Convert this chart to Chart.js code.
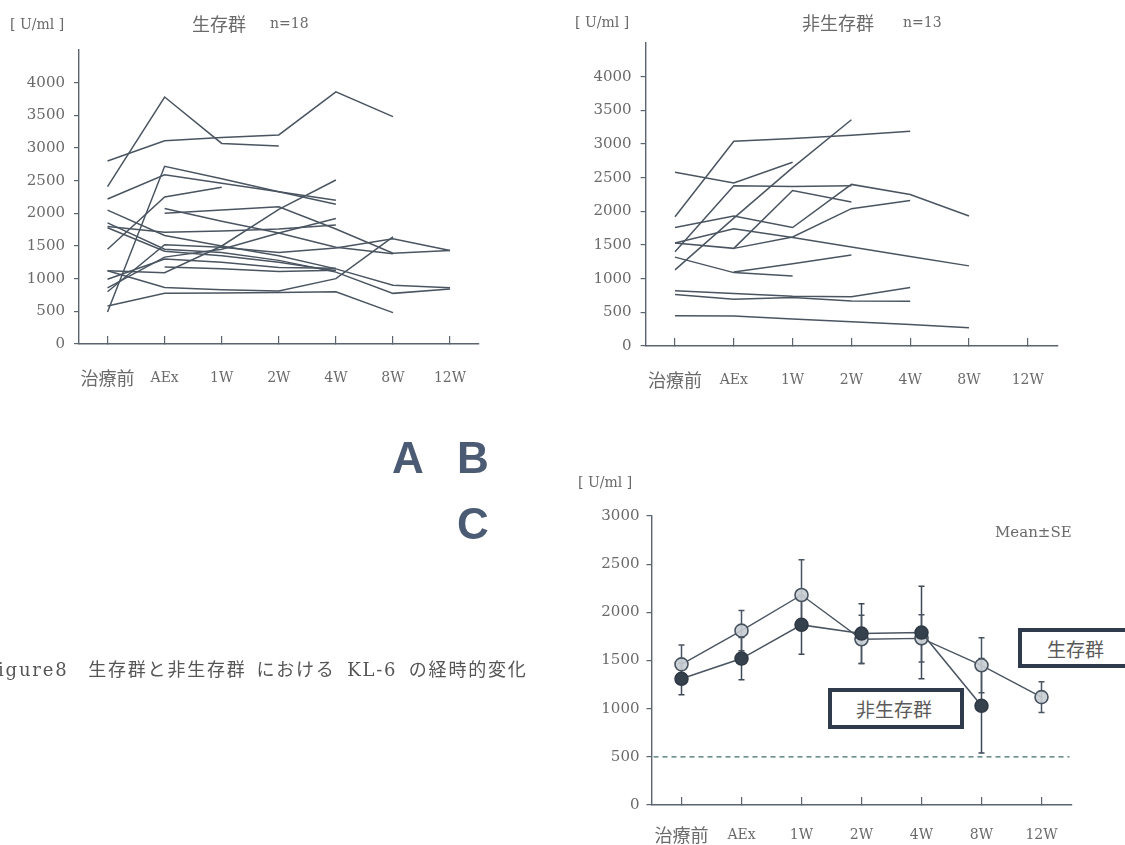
<!DOCTYPE html>
<html lang="ja">
<head>
<meta charset="utf-8">
<title>KL-6 経時的変化</title>
<script src="https://cdn.jsdelivr.net/npm/chart.js@4.4.1/dist/chart.umd.min.js"></script>
<style>
  html, body { margin: 0; padding: 0; background: #fff; }
  body { width: 1125px; height: 845px; position: relative; overflow: hidden;
         font-family: 'DejaVu Serif', 'Noto Sans CJK JP', serif; color: #6a6a6a; }
  canvas { position: absolute; left: 0; top: 0; }
  .t { position: absolute; white-space: nowrap; line-height: 1; }
  .cjk { font-family: 'Noto Sans CJK JP', sans-serif; }
  .big { font-family: 'Liberation Sans', 'DejaVu Sans', sans-serif; font-weight: 900;
         font-size: 44px; color: #4b5b73; }
  .box { position: absolute; box-sizing: border-box; border: 4px solid #2f3b4d; background: #fff;
         font-family: 'Noto Sans CJK JP', sans-serif; font-size: 19px; color: #5a5a5a;
         display: flex; align-items: center; line-height: 1; }
  .caption { font-size: 18px; color: #555; letter-spacing: 1.8px; word-spacing: 4px; }
</style>
</head>
<body>
<canvas id="chartA" width="1125" height="845"></canvas>
<canvas id="chartB" width="1125" height="845"></canvas>
<canvas id="chartC" width="1125" height="845"></canvas>

<!-- panel headings -->
<div class="t" style="left:10px;top:17px;font-size:14px;">[ U/ml ]</div>
<div class="t cjk" style="left:192px;top:14px;font-size:18px;">生存群</div>
<div class="t" style="left:270px;top:16px;font-size:14px;">n=18</div>

<div class="t" style="left:575px;top:15px;font-size:14px;">[ U/ml ]</div>
<div class="t cjk" style="left:802px;top:13px;font-size:18px;">非生存群</div>
<div class="t" style="left:903px;top:15px;font-size:14px;">n=13</div>

<div class="t" style="left:578px;top:475px;font-size:14px;">[ U/ml ]</div>
<div class="t" style="left:995px;top:525px;font-size:15px;">Mean±SE</div>

<div class="t big" style="left:392px;top:436px;">A</div>
<div class="t big" style="left:457px;top:436px;">B</div>
<div class="t big" style="left:457px;top:502px;">C</div>

<div class="t caption" style="left:-2px;top:659px;">igure8　<span class="cjk">生存群と非生存群 における</span> KL-6 <span class="cjk">の経時的変化</span></div>

<div class="box" style="left:1018px;top:628px;width:130px;height:40px;padding-left:25px;">生存群</div>
<div class="box" style="left:828px;top:688px;width:136px;height:41px;padding-left:24px;">非生存群</div>

<script>
// time points
const categories = ['治療前', 'AEx', '1W', '2W', '4W', '8W', '12W'];

// y tick values
const yTicksIndividual = [0, 500, 1000, 1500, 2000, 2500, 3000, 3500, 4000];
const yMaxIndividual = 4500;
const yTicksMean = [0, 500, 1000, 1500, 2000, 2500, 3000];
const yMaxMean = 3000;
const cutoffValue = 500;

// KL-6 per patient, survivors (U/ml)
const s01 = [2410, 3780, 3070, 3030, null, null, null];
const s02 = [2800, 3110, 3160, 3200, 3860, 3480, null];
const s03 = [2220, 2590, 2460, 2330, 2200, null, null];
const s04 = [490, 2720, 2530, 2330, 2140, null, null];
const s05 = [1450, 2250, 2400, null, null, null, null];
const s06 = [580, 775, 780, 790, 800, 480, null];
const s07 = [1120, 866, 830, 810, 1000, 1640, null];
const s08 = [1120, 1090, 1500, 2060, 2510, null, null];
const s09 = [2050, 1660, 1500, 1350, 1150, 900, 860];
const s10 = [1855, 1450, 1400, 1280, 1100, 775, 840];
const s11 = [1800, 1710, 1730, 1760, 1820, null, null];
const s12 = [990, 1300, 1250, 1170, 1160, null, null];
const s13 = [860, 1330, 1450, 1700, 1920, null, null];
const s14 = [800, 1520, 1480, 1400, 1470, 1610, 1430];
const s15 = [null, 2000, 2050, 2100, 1760, 1390, 1430];
const s16 = [null, 2075, 1880, 1700, 1480, 1380, null];
const s17 = [null, 1180, 1150, 1110, 1130, null, null];
const s18 = [1780, 1420, 1350, 1250, 1120, null, null];
const survivorLines = [s01, s02, s03, s04, s05, s06, s07, s08, s09, s10, s11, s12, s13, s14, s15, s16, s17, s18];

// KL-6 per patient, non-survivors (U/ml)
const n01 = [1920, 3040, 3080, 3130, 3190, null, null];
const n02 = [1130, 1900, 2650, 3360, null, null, null];
const n03 = [1400, 2380, 2370, 2380, null, null, null];
const n04 = [2580, 2420, 2730, null, null, null, null];
const n05 = [1760, 1930, 1760, 2400, 2250, 1930, null];
const n06 = [1530, 1450, 2310, 2140, null, null, null];
const n07 = [1530, 1740, 1610, 1470, 1330, 1190, null];
const n08 = [null, 1450, 1620, 2040, 2160, null, null];
const n09 = [1320, 1090, 1040, null, null, null, null];
const n10 = [null, 1100, 1220, 1350, null, null, null];
const n11 = [820, 780, 740, 730, 870, null, null];
const n12 = [765, 695, 720, 670, 665, null, null];
const n13 = [450, 445, 400, 360, 320, 270, null];
const nonSurvivorLines = [n01, n02, n03, n04, n05, n06, n07, n08, n09, n10, n11, n12, n13];

// group means and standard errors
const survivorMean = [1460, 1810, 2180, 1720, 1730, 1450, 1120];
const survivorSE   = [200, 210, 365, 250, 245, 285, 160];
const nonSurvivorMean = [1310, 1520, 1870, 1780, 1790, 1030, null];
const nonSurvivorSE   = [165, 220, 305, 310, 480, 490, null];

const FONT = "'DejaVu Serif', 'Noto Sans CJK JP', serif";
const AXIS = '#5a6570';
const LINE = '#4a5561';
const TEXT = '#6a6a6a';

Chart.defaults.font.family = FONT;
Chart.defaults.color = TEXT;

function scales(opt) {
  return {
    x: {
      type: 'category',
      offset: true,
      grid: { offset: false, drawOnChartArea: false, drawTicks: true, tickLength: -8, color: AXIS, lineWidth: 1.2 },
      border: { display: true, color: AXIS, width: 1.4 },
      ticks: {
        color: TEXT, padding: opt.labelPad, autoSkip: false, maxRotation: 0,
        font: (ctx) => ({ family: FONT, size: ctx.index === 0 ? 18 : 14 })
      },
      afterFit: (s) => { s.height = opt.xHeight; }
    },
    y: {
      type: 'linear',
      min: 0,
      max: opt.max,
      afterBuildTicks: (s) => { s.ticks = opt.ticks.map(v => ({ value: v })); },
      grid: { drawOnChartArea: false, tickLength: 5, color: AXIS, lineWidth: 1.2 },
      border: { display: true, color: AXIS, width: 1.4 },
      ticks: { color: TEXT, padding: opt.yPad, font: { family: FONT, size: 15 }, callback: (v) => String(v) },
      afterFit: (s) => { s.width = 60; }
    }
  };
}

function individualChart(id, lines, area) {
  return new Chart(document.getElementById(id), {
    type: 'line',
    data: {
      labels: categories,
      datasets: lines.map(v => ({
        data: v, borderColor: LINE, borderWidth: 1.5, pointRadius: 0, tension: 0, fill: false
      }))
    },
    options: {
      responsive: false, animation: false,
      layout: { padding: { left: area.left - 60, top: area.top, right: 1125 - area.right, bottom: 845 - area.bottom - 50 } },
      plugins: { legend: { display: false }, tooltip: { enabled: false } },
      scales: scales({ max: yMaxIndividual, ticks: yTicksIndividual, xHeight: 50, labelPad: 33.6, yPad: 9 })
    }
  });
}

// panel A: survivors, panel B: non-survivors
individualChart('chartA', survivorLines, { left: 79, right: 478.6, top: 50, bottom: 344 });
individualChart('chartB', nonSurvivorLines, { left: 645.6, right: 1057.2, top: 43, bottom: 346 });

// SE whiskers drawn under the markers
const errorBars = {
  id: 'errorBars',
  beforeDatasetsDraw(chart) {
    const { ctx } = chart;
    const y = chart.scales.y;
    chart.data.datasets.forEach((ds, i) => {
      if (!ds.se) return;
      const meta = chart.getDatasetMeta(i);
      ctx.save();
      ctx.strokeStyle = ds.seColor;
      ctx.lineWidth = 1.5;
      ds.data.forEach((v, j) => {
        const se = ds.se[j];
        if (v == null || se == null) return;
        const px = meta.data[j].x;
        const top = y.getPixelForValue(v + se);
        const bot = y.getPixelForValue(v - se);
        ctx.beginPath();
        ctx.moveTo(px, top); ctx.lineTo(px, bot);
        ctx.moveTo(px - 3, top); ctx.lineTo(px + 3, top);
        ctx.moveTo(px - 3, bot); ctx.lineTo(px + 3, bot);
        ctx.stroke();
      });
      ctx.restore();
    });
  }
};

// dashed reference level across the plot
const cutoffLine = {
  id: 'cutoffLine',
  beforeDatasetsDraw(chart, args, opts) {
    const { ctx, chartArea } = chart;
    const py = chart.scales.y.getPixelForValue(opts.value);
    ctx.save();
    ctx.strokeStyle = opts.color;
    ctx.lineWidth = 1.3;
    ctx.setLineDash([5, 4]);
    ctx.beginPath();
    ctx.moveTo(chartArea.left + 2, py);
    ctx.lineTo(chartArea.right - 2, py);
    ctx.stroke();
    ctx.restore();
  }
};

// panel C: mean ± SE of both groups
const areaC = { left: 651.5, right: 1071.5, top: 516, bottom: 805 };
new Chart(document.getElementById('chartC'), {
  type: 'line',
  data: {
    labels: categories,
    datasets: [
      {
        label: '非生存群', data: nonSurvivorMean, se: nonSurvivorSE, seColor: '#3e4957',
        borderColor: LINE, borderWidth: 1.6, tension: 0,
        pointRadius: 6.5, pointBackgroundColor: '#36414e', pointBorderColor: '#2e3844', pointBorderWidth: 1.5
      },
      {
        label: '生存群', data: survivorMean, se: survivorSE, seColor: '#4a5563',
        borderColor: LINE, borderWidth: 1.4, tension: 0,
        pointRadius: 6.5, pointBackgroundColor: 'rgba(200,205,211,0.9)', pointBorderColor: '#47525f', pointBorderWidth: 1.6
      }
    ]
  },
  options: {
    responsive: false, animation: false,
    layout: { padding: { left: areaC.left - 60, top: areaC.top, right: 1125 - areaC.right, bottom: 845 - areaC.bottom - 40 } },
    plugins: {
      legend: { display: false }, tooltip: { enabled: false },
      cutoffLine: { value: cutoffValue, color: '#3f6f6c' }
    },
    scales: scales({ max: yMaxMean, ticks: yTicksMean, xHeight: 40, labelPad: 29.6, yPad: 7 })
  },
  plugins: [cutoffLine, errorBars]
});
</script>
</body>
</html>
